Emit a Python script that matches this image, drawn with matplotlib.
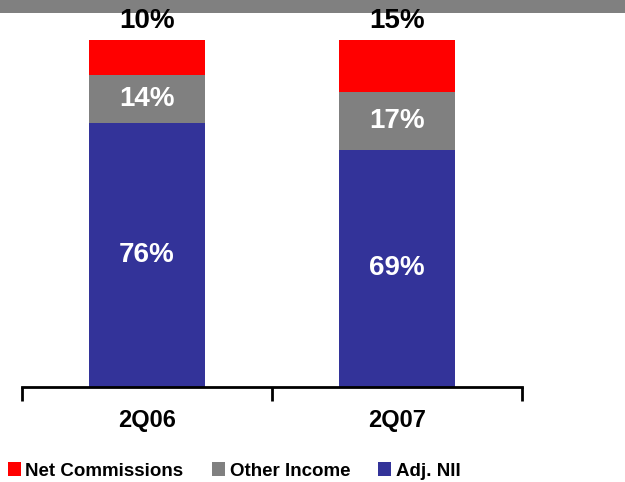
import matplotlib
matplotlib.use("Agg")
import matplotlib.pyplot as plt
from matplotlib.patches import Rectangle, Patch
import numpy as np

# revenue mix per quarter, in percent
quarters = ["2Q06", "2Q07"]
series_names = ["Adj. NII", "Other Income", "Net Commissions"]
adj_nii = [76, 69]
other_income = [14, 17]
net_commissions = [10, 15]
colors = ["#333399", "#808080", "#FF0000"]

plt.rcParams["font.family"] = ["Liberation Sans", "DejaVu Sans"]
plt.rcParams["font.weight"] = "bold"

fig = plt.figure(figsize=(6.25, 4.82), dpi=100)
ax = fig.add_axes([22 / 625, 95 / 482, 500 / 625, 347 / 482])

# dark band across the top of the slide
fig.add_artist(Rectangle((0, 1 - 13 / 482), 1, 13 / 482, transform=fig.transFigure,
                         facecolor="#808080", edgecolor="none", zorder=-1))

x = np.arange(len(quarters))
stack = np.array([adj_nii, other_income, net_commissions], dtype=float)
shares = stack / stack.sum(axis=0) * 100
bottom = np.zeros(len(quarters))
for i, (name, vals, share) in enumerate(zip(series_names, stack, shares)):
    ax.bar(x, share, 0.464, bottom=bottom, color=colors[i], label=name, zorder=2)
    for xi, v, s, b in zip(x, vals, share, bottom):
        if i < 2:
            ax.text(xi, b + s / 2, f"{v:.0f}%", ha="center", va="center",
                    color="white", fontsize=20, fontweight="bold", zorder=3)
        else:
            ax.annotate(f"{v:.0f}%", (xi, b + s), xytext=(0, 13.5),
                        textcoords="offset points", ha="center", va="center",
                        color="black", fontsize=20, fontweight="bold",
                        annotation_clip=False, zorder=3)
    bottom += share

ax.set_xlim(-0.5, len(quarters) - 0.5)
ax.set_ylim(0, 100)
for side in ["top", "right", "left"]:
    ax.spines[side].set_visible(False)
ax.spines["bottom"].set_linewidth(2)
ax.set_yticks([])
ax.set_xticks(x)
ax.set_xticklabels(quarters, fontsize=17, fontweight="bold")
ax.tick_params(axis="x", which="major", length=0, pad=16)
ax.set_xticks(np.arange(len(quarters) + 1) - 0.5, minor=True)
ax.tick_params(axis="x", which="minor", length=10, width=2, direction="out")

handles = [Patch(facecolor=c, edgecolor="none") for c in colors[::-1]]
fig.legend(handles, series_names[::-1], loc="center left",
           bbox_to_anchor=(2 / 625, 11 / 482), ncol=3, frameon=False,
           handlelength=0.7, handleheight=0.7, handletextpad=0.25,
           columnspacing=1.5, borderaxespad=0, borderpad=0.3,
           prop={"size": 13.5, "weight": "bold"})

fig.savefig("out.png", dpi=100, facecolor="white")
